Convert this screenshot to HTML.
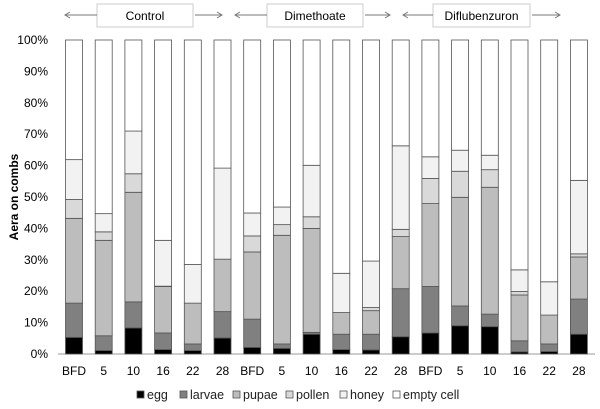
<!DOCTYPE html>
<html><head><meta charset="utf-8"><style>
body{margin:0;background:#fff;font-family:"Liberation Sans",Arial,sans-serif}
svg text{font-family:"Liberation Sans",Arial,sans-serif}
</style></head><body>
<svg id="chart" width="600" height="404">
<g id="header"></g>
<g id="axes"></g>
<g id="bars"></g>
<g id="legend"></g>
</svg>
<script>
const categories=["BFD","5","10","16","22","28","BFD","5","10","16","22","28","BFD","5","10","16","22","28"];
const egg=[5.3,1.1,8.3,1.4,1.1,5.1,2.1,1.8,6.3,1.4,1.3,5.5,6.7,9.0,8.7,0.7,0.8,6.3];
const larvae=[10.9,4.7,8.3,5.3,2.1,8.4,9.0,1.4,0.6,4.9,5.0,15.3,14.8,6.3,4.0,3.5,2.4,11.2];
const pupae=[27.0,30.4,34.9,14.8,13.0,16.7,21.4,34.6,33.1,6.9,7.5,16.6,26.4,34.6,40.4,14.6,9.2,13.4];
const pollen=[6.0,2.7,5.9,0.1,0.0,0.0,5.1,3.4,3.7,0.0,1.0,2.3,8.0,8.3,5.6,1.1,0.0,1.0];
const honey=[12.7,5.8,13.6,14.6,12.3,29.0,7.3,5.6,16.4,12.5,14.8,26.6,6.9,6.7,4.6,6.9,10.6,23.4];
const yTicks=[0,10,20,30,40,50,60,70,80,90,100];
const seriesNames=["egg","larvae","pupae","pollen","honey","empty cell"];
const seriesColors=["#000","#808080","#bdbdbd","#d9d9d9","#f2f2f2","#fff"];
const groups=["Control","Dimethoate","Diflubenzuron"];

const NS="http://www.w3.org/2000/svg";
function mk(p,t,a,txt){const e=document.createElementNS(NS,t);for(const k in a)e.setAttribute(k,a[k]);if(txt!==undefined)e.textContent=txt;p.appendChild(e);return e;}
const y0=354,y1=40,xL=58,xR=595,step=29.7,x0=74,bw=17;
const yS=v=>y0-(v/100)*(y0-y1);
const xS=i=>x0+i*step;
const axes=document.getElementById('axes');
let l=mk(axes,'line',{x1:xL,x2:xR,y1:y0,y2:y0,stroke:'#999'});

yTicks.forEach(t=>{const e=mk(axes,'text',{x:48,y:yS(t)+4,'text-anchor':'end','font-size':12,fill:'#000'},t+'%');
});
categories.forEach((c,i)=>{const e=mk(axes,'text',{x:xS(i),y:375,'text-anchor':'middle','font-size':12},c);
});
const yt=mk(axes,'text',{x:0,y:0,transform:'translate(18,197) rotate(-90)','text-anchor':'middle','font-size':12,'font-weight':'bold'},'Aera on combs');

const bars=document.getElementById('bars');
const series=[egg,larvae,pupae,pollen,honey];
categories.forEach((c,i)=>{let cum=0;
for(let s=0;s<6;s++){const v=s<5?series[s][i]:100-cum;
const r=mk(bars,'rect',{x:xS(i)-bw/2,y:yS(cum+v),width:bw,height:yS(cum)-yS(cum+v),fill:seriesColors[s],stroke:'#555','stroke-width':0.8});
cum+=v;}});
const hd=document.getElementById('header');
const hdr=[[65,97,193,222],[235,267,363,390],[403,433,530,560]];
hdr.forEach((h,i)=>{
const b=mk(hd,'rect',{x:h[1],y:4,width:h[2]-h[1],height:23,fill:'#fff',stroke:'#ccc'});

const t=mk(hd,'text',{x:(h[1]+h[2])/2,y:20,'text-anchor':'middle','font-size':12},groups[i]);

mk(hd,'path',{d:`M${h[0]} 15H${h[1]} M${h[0]+5} 12L${h[0]} 15L${h[0]+5} 18 M${h[2]+2} 15H${h[3]} M${h[3]-5} 12L${h[3]} 15L${h[3]-5} 18`,stroke:'#777',fill:'none'});});
const lg=document.getElementById('legend');
const lx=[137,180,233,286,340,393];
seriesNames.forEach((n,i)=>{
const r=mk(lg,'rect',{x:lx[i],y:391,width:7,height:7,fill:seriesColors[i],stroke:'#555','stroke-width':0.8});

const t=mk(lg,'text',{x:lx[i]+10,y:399,'font-size':12.5,fill:'#222'},n);
});
</script>
</body></html>
